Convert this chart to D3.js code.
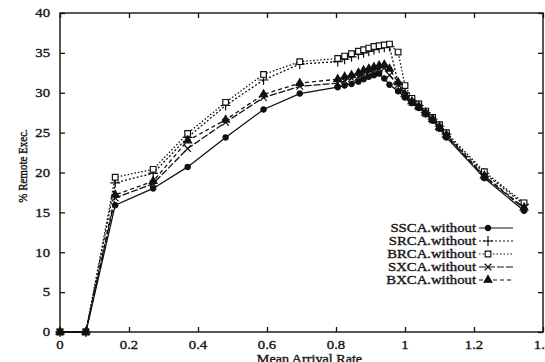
<!DOCTYPE html>
<html>
<head>
<meta charset="utf-8">
<script src="https://cdn.jsdelivr.net/npm/d3@7"></script>
<style>
  html, body { margin: 0; padding: 0; background: #fff; }
  svg { display: block; }
</style>
</head>
<body>
<svg id="chart" width="545" height="362"></svg>
<script>
// Mean arrival rate (x) shared by every policy
const rates = [0, 0.075, 0.16, 0.27, 0.37, 0.48, 0.59, 0.695, 0.805, 0.825, 0.845, 0.865,
               0.88, 0.895, 0.91, 0.925, 0.94, 0.955, 0.98, 1.0, 1.02, 1.04, 1.06, 1.08,
               1.1, 1.12, 1.23, 1.345];

// % remote executions per policy
const sscaWithout = [0, 0, 15.9, 18.0, 20.7, 24.4, 27.9, 29.9, 30.7, 30.9, 31.1, 31.4,
                     31.7, 32.0, 32.2, 32.4, 31.8, 31.0, 30.2, 29.4, 28.7, 28.1, 27.3, 26.5,
                     25.5, 24.4, 19.3, 15.2];
const srcaWithout = [0, 0, 18.7, 19.9, 24.4, 28.4, 31.6, 33.6, 33.9, 34.2, 34.5, 34.8,
                     35.0, 35.2, 35.4, 35.6, 35.7, 35.8, 31.2, 30.0, 29.0, 28.4, 27.5, 26.7,
                     25.8, 24.8, 19.9, 16.0];
const brcaWithout = [0, 0, 19.4, 20.4, 24.9, 28.8, 32.3, 33.9, 34.3, 34.6, 34.9, 35.2,
                     35.4, 35.6, 35.8, 35.9, 36.0, 36.1, 35.1, 30.9, 29.3, 28.6, 27.7, 26.9,
                     26.0, 25.0, 20.1, 16.2];
const sxcaWithout = [0, 0, 16.8, 18.6, 23.0, 26.3, 29.4, 30.8, 31.2, 31.5, 31.8, 32.0,
                     32.3, 32.6, 32.8, 33.0, 33.1, 32.2, 31.0, 29.6, 28.8, 28.2, 27.4, 26.6,
                     25.6, 24.6, 19.5, 15.5];
const bxcaWithout = [0, 0, 17.2, 18.9, 24.0, 26.6, 29.8, 31.2, 31.7, 32.0, 32.2, 32.5,
                     32.8, 33.0, 33.2, 33.4, 33.5, 33.0, 31.3, 29.8, 28.9, 28.3, 27.5, 26.7,
                     25.7, 24.7, 19.6, 15.6];

const seriesNames = ["SSCA.without", "SRCA.without", "BRCA.without", "SXCA.without", "BXCA.without"];
const seriesValues = [sscaWithout, srcaWithout, brcaWithout, sxcaWithout, bxcaWithout];

const xTickValues = [0, 0.2, 0.4, 0.6, 0.8, 1, 1.2, 1.4];
const yTickValues = [0, 5, 10, 15, 20, 25, 30, 35, 40];
const xTitle = "Mean Arrival Rate";
const yTitle = "% Remote Exec.";

// Drawing styles for each series, in legend order
const styles = [
  { dash: null,   symbol: d3.symbolCircle,   size: 22, fill: "#111", stroke: "#111" },
  { dash: "2,2",  symbol: d3.symbolPlus || d3.symbolCross, size: 34, fill: "none", stroke: "#111" },
  { dash: "1.5,2",symbol: d3.symbolSquare,   size: 32, fill: "#fff", stroke: "#111" },
  { dash: "7,2",  symbol: d3.symbolX || d3.symbolTimes || d3.symbolCross, size: 30, fill: "none", stroke: "#111" },
  { dash: "4,3",  symbol: d3.symbolTriangle, size: 26, fill: "#111", stroke: "#111" }
];

const svg = d3.select("#chart");
const FONT = "'Liberation Serif', 'Times New Roman', serif";
const STRETCH = 1.18;   // glyphs are a bit wider than the face's natural proportions
const plot = { left: 60, right: 543, top: 13, bottom: 332 };

const x = d3.scaleLinear().domain([0, 1.4]).range([plot.left, plot.right]);
const y = d3.scaleLinear().domain([0, 40]).range([plot.bottom, plot.top]);

svg.append("rect").attr("width", 545).attr("height", 362).attr("fill", "#fff");

// helper: place a widened, slightly heavy text label
function label(g, text, px, py, anchor, size, rotate) {
  return g.append("text")
    .attr("transform", `translate(${px},${py}) scale(${STRETCH},1)` + (rotate ? ` rotate(${rotate})` : ""))
    .attr("text-anchor", anchor)
    .attr("font-family", FONT)
    .attr("font-size", size)
    .attr("fill", "#161616")
    .attr("stroke", "#161616")
    .attr("stroke-width", 0.35)
    .text(text);
}

// inward ticks on all four sides
const tickStyle = g => {
  g.select(".domain").remove();
  g.selectAll(".tick line").attr("stroke", "#111").attr("stroke-width", 1.3);
  g.selectAll(".tick text").remove();
};
svg.append("g").attr("transform", `translate(0,${plot.bottom})`)
  .call(d3.axisBottom(x).tickValues(xTickValues).tickSizeInner(-5).tickSizeOuter(0)).call(tickStyle);
svg.append("g").attr("transform", `translate(0,${plot.top})`)
  .call(d3.axisTop(x).tickValues(xTickValues).tickSizeInner(-5).tickSizeOuter(0)).call(tickStyle);
svg.append("g").attr("transform", `translate(${plot.left},0)`)
  .call(d3.axisLeft(y).tickValues(yTickValues).tickSizeInner(-5).tickSizeOuter(0)).call(tickStyle);
svg.append("g").attr("transform", `translate(${plot.right},0)`)
  .call(d3.axisRight(y).tickValues(yTickValues).tickSizeInner(-5).tickSizeOuter(0)).call(tickStyle);

// frame
svg.append("rect")
  .attr("x", plot.left).attr("y", plot.top)
  .attr("width", plot.right - plot.left).attr("height", plot.bottom - plot.top)
  .attr("fill", "none").attr("stroke", "#111").attr("stroke-width", 1.4);

// tick labels
const labels = svg.append("g");
xTickValues.forEach(v => label(labels, d3.format("")(v), x(v), 348.5, "middle", 12.5));
yTickValues.forEach(v => label(labels, String(v), 50, y(v) + 4.3, "end", 12.5));

// axis titles
label(labels, xTitle, (plot.left + plot.right) / 2 + 8, 362.5, "middle", 12);
label(labels, yTitle, 27, 166, "middle", 11, -90);

// series lines and markers
const line = d3.line().x(d => x(d[0])).y(d => y(d[1]));
seriesValues.forEach((vals, i) => {
  const pts = rates.map((r, k) => [r, vals[k]]);
  const st = styles[i];
  svg.append("path")
    .datum(pts)
    .attr("d", line)
    .attr("fill", "none")
    .attr("stroke", "#111")
    .attr("stroke-width", 1.3)
    .attr("stroke-dasharray", st.dash);
  svg.append("g").selectAll("path")
    .data(pts)
    .join("path")
    .attr("transform", d => `translate(${x(d[0])},${y(d[1])})`)
    .attr("d", d3.symbol().type(st.symbol).size(st.size))
    .attr("fill", st.fill)
    .attr("stroke", st.stroke)
    .attr("stroke-width", 1.2);
});

// legend
const legend = svg.append("g");
seriesNames.forEach((name, i) => {
  const ly = 228 + i * 13;
  const st = styles[i];
  label(legend, name, 476, ly + 4.3, "end", 12.5);
  legend.append("line")
    .attr("x1", 479).attr("x2", 513).attr("y1", ly).attr("y2", ly)
    .attr("stroke", "#111").attr("stroke-width", 1.2)
    .attr("stroke-dasharray", st.dash);
  legend.append("path")
    .attr("transform", `translate(488,${ly})`)
    .attr("d", d3.symbol().type(st.symbol).size(st.size))
    .attr("fill", st.fill).attr("stroke", st.stroke).attr("stroke-width", 1.2);
});
</script>
</body>
</html>
